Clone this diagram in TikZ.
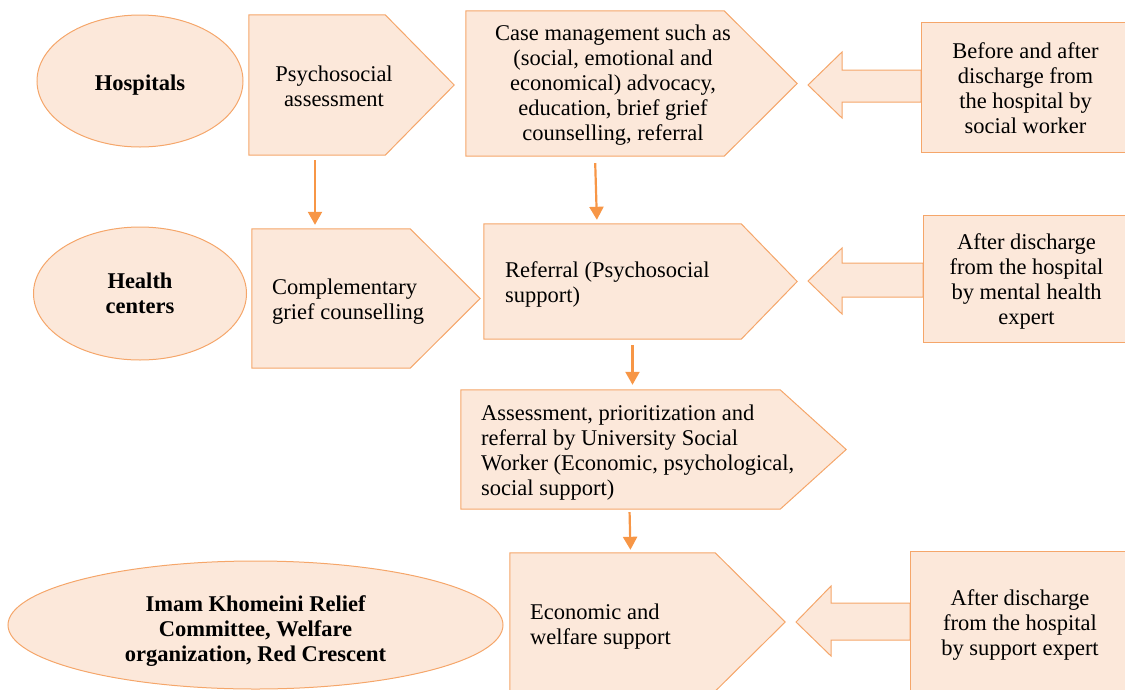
\documentclass[tikz,border=0pt]{standalone}
\usepackage{fontspec}
\setmainfont{Liberation Serif}
\usetikzlibrary{arrows.meta, positioning, shapes.geometric, calc}
\definecolor{cpeach}{HTML}{FCE8DA}
\definecolor{cedge}{HTML}{F5A66A}
\definecolor{carrow}{HTML}{F79646}
\newcommand{\bodyfont}{\fontsize{22.5}{25}\selectfont}
\tikzset{
  oval/.style={ellipse, draw=cedge, fill=cpeach, line width=1pt, inner sep=0pt},
  body/.style={rectangle, inner sep=0pt},
  pent/.style={draw=cedge, fill=cpeach, line width=1pt, line join=miter},
  sidebox/.style={rectangle, draw=cedge, fill=cpeach, line width=1pt, inner sep=0pt},
  blockarr/.style={draw=cedge, fill=cpeach, line width=1pt, line join=miter},
  txt/.style={inner sep=0pt, font=\bodyfont},
  btxt/.style={inner sep=0pt, font=\bodyfont\bfseries, align=center},
  arr/.style={-{Triangle[length=13pt,width=14pt]}, line width=2.2pt, carrow},
}
\begin{document}
\begin{tikzpicture}[x=1pt, y=-1pt]
  \useasboundingbox (0,0) rectangle (1125,689);
  \clip (0,0) rectangle (1125,689);

  % left column: places
  \node[oval, minimum width=206, minimum height=132] (hosp) at (140,81) {};
  \node[btxt] (hosp-t) at ([yshift=-4]hosp.center) {Hospitals};
  \node[oval, minimum width=213, minimum height=133] (hc) at (140,293.5) {};
  \node[btxt] (hc-t) at (hc.center) {Health\\centers};
  \node[oval, minimum width=495, minimum height=128] (imam) at (255.5,625) {};
  \node[btxt] (imam-t) at ([yshift=-6]imam.center)
    {Imam Khomeini Relief\\Committee, Welfare\\organization, Red Crescent};

  % pentagons (body node + pointed outline + text)
  \node[body, minimum width=136, minimum height=140] (psy) at (317,85) {};
  \draw[pent] (psy.north west) -- (psy.north east) -- ([xshift=69]psy.east)
    -- (psy.south east) -- (psy.south west) -- cycle;
  \node[txt, align=center] (psy-t) at (334,86) {Psychosocial\\assessment};

  \node[body, minimum width=258, minimum height=145] (case) at (595,83.5) {};
  \draw[pent] (case.north west) -- (case.north east) -- ([xshift=73]case.east)
    -- (case.south east) -- (case.south west) -- cycle;
  \node[txt, align=center] (case-t) at (613,85.5) {Case management such as\\(social, emotional and\\economical) advocacy,\\education, brief grief\\counselling, referral};

  \node[body, minimum width=158, minimum height=139] (comp) at (331,298.5) {};
  \draw[pent] (comp.north west) -- (comp.north east) -- ([xshift=70]comp.east)
    -- (comp.south east) -- (comp.south west) -- cycle;
  \node[txt, align=left, anchor=west] (comp-t) at (272,301.5) {Complementary\\grief counselling};

  \node[body, minimum width=257, minimum height=115] (ref) at (612.5,281.5) {};
  \draw[pent] (ref.north west) -- (ref.north east) -- ([xshift=56]ref.east)
    -- (ref.south east) -- (ref.south west) -- cycle;
  \node[txt, align=left, anchor=west] (ref-t) at (505,284.5) {Referral (Psychosocial\\support)};

  \node[body, minimum width=319, minimum height=119] (asr) at (620.5,449.5) {};
  \draw[pent] (asr.north west) -- (asr.north east) -- ([xshift=66]asr.east)
    -- (asr.south east) -- (asr.south west) -- cycle;
  \node[txt, align=left, anchor=west] (asr-t) at (481,453) {Assessment, prioritization and\\referral by University Social\\Worker (Economic, psychological,\\social support)};

  \node[body, minimum width=205, minimum height=138] (eco) at (612.5,622) {};
  \draw[pent] (eco.north west) -- (eco.north east) -- ([xshift=70]eco.east)
    -- (eco.south east) -- (eco.south west) -- cycle;
  \node[txt, align=left, anchor=west] (eco-t) at (530,626.5) {Economic and\\welfare support};

  % block arrows pointing back from the right boxes
  \coordinate (tip1) at (808,85);
  \coordinate (tip2) at (808,281);
  \coordinate (tip3) at (796,622);
  \draw[blockarr] (tip1) -- ++(34,-33) -- ++(0,18) -- (921,70) -- (921,102)
    -- (842,102) -- ++(0,16) -- cycle;
  \draw[blockarr] (tip2) -- ++(34,-33) -- ++(0,15) -- (923,263) -- (923,297)
    -- (842,297) -- ++(0,17) -- cycle;
  \draw[blockarr] (tip3) -- ++(35,-36) -- ++(0,17) -- (910,603) -- (910,640)
    -- (831,640) -- ++(0,16) -- cycle;

  % right column: who does it
  \node[sidebox, minimum width=209, minimum height=130] (sw1) at (1025.5,87) {};
  \node[txt, align=center] (sw1-t) at ([yshift=-1]sw1.center)
    {Before and after\\discharge from\\the hospital by\\social worker};
  \node[sidebox, minimum width=207, minimum height=127] (sw2) at (1026.5,278.5) {};
  \node[txt, align=center] (sw2-t) at ([yshift=-3]sw2.center)
    {After discharge\\from the hospital\\by mental health\\expert};
  \node[sidebox, minimum width=220, minimum height=140] (sw3) at (1020,621) {};
  \node[txt, align=center] (sw3-t) at ([yshift=-4]sw3.center)
    {After discharge\\from the hospital\\by support expert};

  % flow arrows
  \draw[arr, shorten <=5pt, shorten >=4pt] ([xshift=-2]psy.south) -- ([xshift=-2]psy.south |- comp.north);
  \draw[arr, shorten <=7pt, shorten >=4pt] (case.south) -- ([xshift=2]case.south |- ref.north);
  \draw[arr, shorten <=6pt, shorten >=5pt] ([xshift=20]ref.south) -- ([xshift=20]ref.south |- asr.north);
  \draw[arr, shorten <=3pt, shorten >=3pt] ([xshift=9]asr.south) -- ([xshift=10]asr.south |- eco.north);

\end{tikzpicture}
\end{document}
